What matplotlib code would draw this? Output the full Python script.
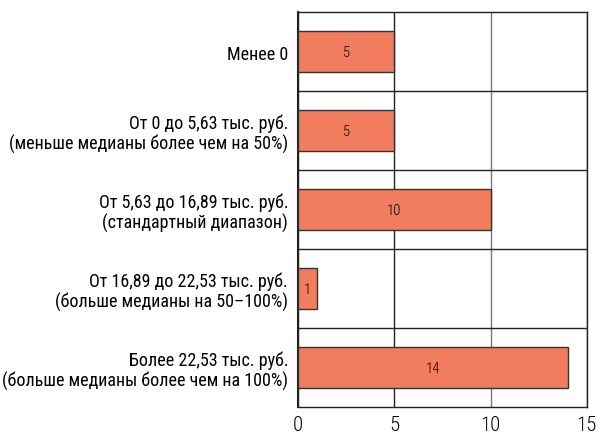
import matplotlib
matplotlib.use('Agg')
import matplotlib.pyplot as plt

categories = [
    'Менее 0',
    'От 0 до 5,63 тыс. руб.\n(меньше медианы более чем на 50%)',
    'От 5,63 до 16,89 тыс. руб.\n(стандартный диапазон)',
    'От 16,89 до 22,53 тыс. руб.\n(больше медианы на 50–100%)',
    'Более 22,53 тыс. руб.\n(больше медианы более чем на 100%)',
]
values = [5, 5, 10, 1, 14]
xticks = [0, 5, 10, 15]

plt.rcParams['font.family'] = ['Roboto Condensed', 'PT Sans Narrow', 'DejaVu Sans']

fig = plt.figure(figsize=(5.97, 4.35), dpi=100)
ax = fig.add_axes([0.499, 0.062, 0.484, 0.908])

pos = list(range(len(categories)))
bars = ax.barh(pos, values, height=0.51, color='#F27C5E', edgecolor='#333333', linewidth=1, zorder=3)
for b, v in zip(bars, values):
    ax.text(b.get_width() / 2, b.get_y() + b.get_height() / 2, str(v),
            ha='center', va='center', fontsize=10.5, fontweight=300, zorder=4)

ax.set_ylim(len(categories) - 0.5, -0.5)
ax.set_xlim(0, 15)
ax.set_yticks(pos)
ax.set_yticklabels(categories, fontsize=13, linespacing=1.1)
ax.set_yticks([p + 0.5 for p in pos[:-1]], minor=True)
ax.set_xticks(xticks)
ax.tick_params(axis='x', labelsize=15, length=0, pad=6)
ax.tick_params(axis='y', which='both', length=0, pad=7)
for lbl in ax.get_xticklabels():
    lbl.set_fontweight(300)

ax.grid(axis='x', which='major', color='#222222', linewidth=1, zorder=0)
ax.grid(axis='y', which='minor', color='#222222', linewidth=1, zorder=0)
ax.get_xgridlines()[2].set_color('#777777')
for s in ax.spines.values():
    s.set_color('#222222')
    s.set_linewidth(1)
ax.spines['left'].set_linewidth(1.5)

fig.savefig('out.png', dpi=100)
